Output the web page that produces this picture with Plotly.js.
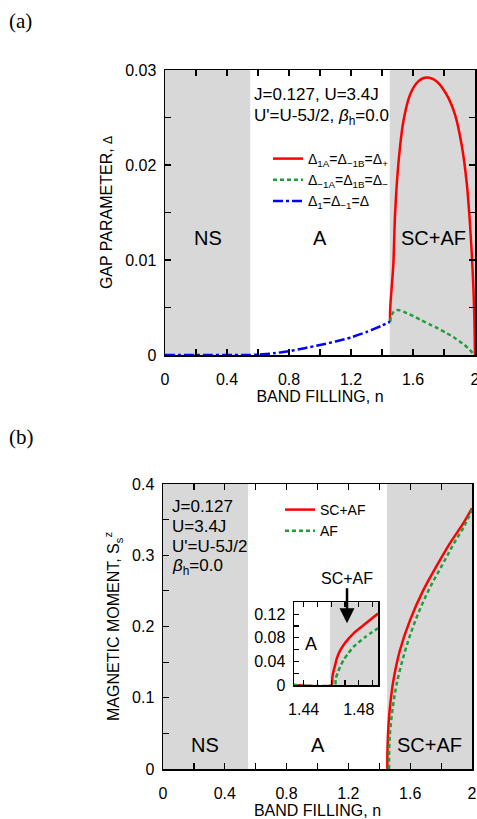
<!DOCTYPE html>
<html>
<head>
<meta charset="utf-8">
<script src="https://cdn.plot.ly/plotly-3.0.1.min.js"></script>
<style>html,body{margin:0;padding:0;background:#fff;}#chart{width:477px;height:819px;}</style>
</head>
<body>
<div id="chart"></div>
<script>
// ---------- data ----------
// Panel (a): gap parameters vs band filling n
const blueN = [0, 0.1, 0.2, 0.3, 0.4, 0.55, 0.6, 0.7, 0.8, 0.9, 1.0, 1.1, 1.2, 1.3, 1.4, 1.4516];
const blueD = [0, 0, 0, 0, 0, 0, 0.00004, 0.00018, 0.0004, 0.00072, 0.00105, 0.00142, 0.00185, 0.00242, 0.0031, 0.0035];

const redN = [1.4516, 1.452, 1.455, 1.462, 1.473, 1.484, 1.505, 1.538, 1.581, 1.634, 1.688, 1.753, 1.817, 1.871, 1.914, 1.946, 1.968, 1.985, 1.995, 2.0];
const redD = [0.0035, 0.0045, 0.0055, 0.0070, 0.0095, 0.0147, 0.0200, 0.0246, 0.0274, 0.0288, 0.0292, 0.0288, 0.0274, 0.0253, 0.0221, 0.0182, 0.0137, 0.0088, 0.0045, 0.0];

const greenN = [1.4516, 1.46, 1.473, 1.495, 1.516, 1.56, 1.602, 1.65, 1.71, 1.76, 1.817, 1.86, 1.903, 1.93, 1.957, 1.975, 1.989, 2.0];
const greenD = [0.0035, 0.0041, 0.0045, 0.00472, 0.0047, 0.0044, 0.0041, 0.0037, 0.0032, 0.0028, 0.0023, 0.0019, 0.0014, 0.0011, 0.0007, 0.0004, 0.0001, 0];

// Panel (b): magnetic moment vs band filling n
const scafN = [1.452, 1.4525, 1.455, 1.46, 1.469, 1.491, 1.534, 1.599, 1.685, 1.771, 1.858, 1.944, 2.0];
const scafS = [0, 0.022, 0.042, 0.063, 0.087, 0.124, 0.167, 0.209, 0.251, 0.285, 0.317, 0.345, 0.366];
const afN = [1.463, 1.4635, 1.466, 1.474, 1.491, 1.513, 1.566, 1.631, 1.717, 1.804, 1.879, 1.955, 2.0];
const afS = [0, 0.02, 0.04, 0.062, 0.092, 0.12, 0.165, 0.207, 0.25, 0.285, 0.315, 0.343, 0.364];

// Inset of panel (b)
const insScafN = [1.433, 1.4604, 1.4608, 1.4616, 1.463, 1.4641, 1.466, 1.469, 1.4725, 1.4763, 1.485, 1.494];
const insScafS = [0, 0, 0.012, 0.0225, 0.035, 0.045, 0.056, 0.0677, 0.078, 0.0875, 0.104, 0.121];
const insAfN = [1.433, 1.4628, 1.4632, 1.4646, 1.4665, 1.469, 1.4725, 1.4763, 1.485, 1.494];
const insAfS = [0, 0, 0.010, 0.0197, 0.031, 0.0423, 0.054, 0.0648, 0.0817, 0.096];

// Tick values / labels
const nTicks = [0, 0.4, 0.8, 1.2, 1.6, 2];
const nTickText = ['0', '0.4', '0.8', '1.2', '1.6', '2'];
const gapTicks = [0, 0.01, 0.02, 0.03];
const momTicks = [0, 0.1, 0.2, 0.3, 0.4];
const insXTicks = [1.44, 1.48];
const insYTicks = [0, 0.04, 0.08, 0.12];

// Phase regions
const nsRange = [0, 0.55];
const scRange = [1.45, 2.0];
const insScStart = 1.4592;

// ---------- styling ----------
const FONT = "'Liberation Sans', Arial, sans-serif";
const RED = '#ff0000', GREEN = '#1f9e3a', BLUE = '#0000ff', SHADE = '#d8d8d8';
const tickFont = {family: FONT, size: 16, color: '#000'};
const titleFont = {family: FONT, size: 16, color: '#000'};
const minorT = (d, len) => ({dtick: d, ticks: 'inside', ticklen: len, tickwidth: 1.2, tickcolor: '#000'});

const traces = [
  {x: redN, y: redD, xaxis: 'x', yaxis: 'y', mode: 'lines', name: 'Δ<sub>1A</sub>=Δ<sub>−1B</sub>=Δ<sub>+</sub>',
   line: {color: RED, width: 2.5, shape: 'spline', smoothing: 0.8}, legend: 'legend', legendrank: 1},
  {x: greenN, y: greenD, xaxis: 'x', yaxis: 'y', mode: 'lines', name: 'Δ<sub>−1A</sub>=Δ<sub>1B</sub>=Δ<sub>−</sub>',
   line: {color: GREEN, width: 2.5, dash: '4px,3px', shape: 'spline', smoothing: 0.8}, legend: 'legend', legendrank: 2},
  {x: blueN, y: blueD, xaxis: 'x', yaxis: 'y', mode: 'lines', name: 'Δ<sub>1</sub>=Δ<sub>−1</sub>=Δ',
   line: {color: BLUE, width: 2.5, dash: '10px,3px,3px,3px', shape: 'spline', smoothing: 0.6}, legend: 'legend', legendrank: 3},
  {x: scafN, y: scafS, xaxis: 'x2', yaxis: 'y2', mode: 'lines', name: 'SC+AF',
   line: {color: RED, width: 2.5, shape: 'spline', smoothing: 1}, legend: 'legend2', legendrank: 1},
  {x: afN, y: afS, xaxis: 'x2', yaxis: 'y2', mode: 'lines', name: 'AF',
   line: {color: GREEN, width: 2.5, dash: '4px,3px', shape: 'spline', smoothing: 1}, legend: 'legend2', legendrank: 2},
  {x: insScafN, y: insScafS, xaxis: 'x3', yaxis: 'y3', mode: 'lines', showlegend: false,
   line: {color: RED, width: 2.5, shape: 'spline', smoothing: 0.6}},
  {x: insAfN, y: insAfS, xaxis: 'x3', yaxis: 'y3', mode: 'lines', showlegend: false,
   line: {color: GREEN, width: 2.5, dash: '4px,3px', shape: 'spline', smoothing: 0.6}}
];

function xax(domain, anchor) {
  return {
    domain: domain, anchor: anchor, range: [0, 2], tickmode: 'array', tickvals: nTicks, ticktext: nTickText,
    ticks: 'inside', ticklen: 6, tickwidth: 1.2, tickcolor: '#000', minor: minorT(0.2, 6),
    showline: true, linecolor: '#000', linewidth: 1.5, mirror: 'ticks',
    showgrid: false, zeroline: false, tickfont: tickFont, automargin: false, ticklabelstandoff: 9,
    ticklabeloverflow: 'allow',
    title: {text: 'BAND FILLING, n', font: titleFont, standoff: 4}
  };
}

const layout = {
  width: 477, height: 819,
  margin: {l: 0, r: 0, t: 0, b: 0},
  paper_bgcolor: '#fff', plot_bgcolor: 'rgba(0,0,0,0)',
  showlegend: true,
  xaxis: xax([165/477, 475/477], 'y'),
  yaxis: {
    domain: [1 - 355/819, 1 - 70/819], anchor: 'x', range: [0, 0.03], tickmode: 'array', tickvals: gapTicks,
    ticks: 'inside', ticklen: 6, tickwidth: 1.2, tickcolor: '#000', minor: minorT(0.005, 6),
    showline: true, linecolor: '#000', linewidth: 1.5, mirror: 'ticks',
    showgrid: false, zeroline: false, tickfont: tickFont, automargin: false, ticklabelstandoff: 4,
    ticklabeloverflow: 'allow',
    title: {text: 'GAP PARAMETER, <span style="font-size:12px">Δ</span>', font: titleFont, standoff: 8}
  },
  xaxis2: xax([163/477, 472/477], 'y2'),
  yaxis2: {
    domain: [1 - 769/819, 1 - 484/819], anchor: 'x2', range: [0, 0.4], tickmode: 'array', tickvals: momTicks,
    ticks: 'inside', ticklen: 6, tickwidth: 1.2, tickcolor: '#000', minor: minorT(0.05, 6),
    showline: true, linecolor: '#000', linewidth: 1.5, mirror: true,
    showgrid: false, zeroline: false, tickfont: tickFont, automargin: false, ticklabelstandoff: 4,
    ticklabeloverflow: 'allow',
    title: {text: 'MAGNETIC MOMENT, S<sub>s</sub><sup>z</sup>', font: titleFont, standoff: 8}
  },
  yaxis4: {
    overlaying: 'y2', side: 'right', anchor: 'x2', range: [0, 0.4], dtick: 0.4/6, tick0: 0,
    ticks: 'inside', ticklen: 6, tickwidth: 1.2, tickcolor: '#000', showticklabels: false,
    showline: false, showgrid: false, zeroline: false
  },
  xaxis3: {
    domain: [294/477, 378/477], anchor: 'y3', range: [1.433, 1.494], tickmode: 'array', tickvals: insXTicks,
    ticks: 'inside', ticklen: 5, tickwidth: 1.2, tickcolor: '#000', minor: minorT(0.01, 5),
    showline: true, linecolor: '#000', linewidth: 1.5, mirror: 'ticks',
    showgrid: false, zeroline: false, tickfont: tickFont, automargin: false, ticklabelstandoff: 9,
    ticklabeloverflow: 'allow'
  },
  yaxis3: {
    domain: [1 - 685/819, 1 - 602.3/819], anchor: 'x3', range: [0, 0.14], tickmode: 'array', tickvals: insYTicks,
    ticks: 'inside', ticklen: 5, tickwidth: 1.2, tickcolor: '#000', minor: minorT(0.02, 5),
    showline: true, linecolor: '#000', linewidth: 1.5, mirror: true,
    showgrid: false, zeroline: false, tickfont: tickFont, automargin: false, ticklabelstandoff: 4,
    ticklabeloverflow: 'allow'
  },
  legend: {
    x: 268/477, y: 1 - 143/819, xanchor: 'left', yanchor: 'top',
    bgcolor: 'rgba(0,0,0,0)', borderwidth: 0, font: {family: FONT, size: 14, color: '#000'},
    tracegroupgap: 0, itemclick: false
  },
  legend2: {
    x: 280/477, y: 1 - 494/819, xanchor: 'left', yanchor: 'top',
    bgcolor: 'rgba(0,0,0,0)', borderwidth: 0, font: {family: FONT, size: 14, color: '#000'},
    tracegroupgap: 0, itemclick: false
  },
  shapes: [
    {type: 'rect', xref: 'x', yref: 'y domain', x0: nsRange[0], x1: nsRange[1], y0: 0, y1: 1, fillcolor: SHADE, line: {width: 0}, layer: 'below'},
    {type: 'rect', xref: 'x', yref: 'y domain', x0: scRange[0], x1: scRange[1], y0: 0, y1: 1, fillcolor: SHADE, line: {width: 0}, layer: 'below'},
    {type: 'rect', xref: 'x2', yref: 'y2 domain', x0: nsRange[0], x1: nsRange[1], y0: 0, y1: 1, fillcolor: SHADE, line: {width: 0}, layer: 'below'},
    {type: 'rect', xref: 'x2', yref: 'y2 domain', x0: scRange[0], x1: scRange[1], y0: 0, y1: 1, fillcolor: SHADE, line: {width: 0}, layer: 'below'},
    {type: 'rect', xref: 'x3', yref: 'y3 domain', x0: insScStart, x1: 1.494, y0: 0, y1: 1, fillcolor: SHADE, line: {width: 0}, layer: 'below'}
  ],
  annotations: [
    {text: '(a)', xref: 'paper', yref: 'paper', x: 7/477, y: 1 - 21/819, xanchor: 'left', yanchor: 'middle', showarrow: false,
     font: {family: "'Liberation Serif', 'DejaVu Serif', serif", size: 21, color: '#000'}},
    {text: '(b)', xref: 'paper', yref: 'paper', x: 7/477, y: 1 - 437/819, xanchor: 'left', yanchor: 'middle', showarrow: false,
     font: {family: "'Liberation Serif', 'DejaVu Serif', serif", size: 21, color: '#000'}},
    {text: 'J=0.127, U=3.4J', xref: 'x', yref: 'y', x: 0.559, y: 0.0274, xanchor: 'left', yanchor: 'middle', showarrow: false,
     font: {family: FONT, size: 17, color: '#000'}},
    {text: "U'=U-5J/2, <i>β</i><sub>h</sub>=0.0", xref: 'x', yref: 'y', x: 0.559, y: 0.02505, xanchor: 'left', yanchor: 'middle', showarrow: false,
     font: {family: FONT, size: 17, color: '#000'}},
    {text: 'NS', xref: 'x', yref: 'y', x: 0.277, y: 0.0123, showarrow: false, font: {family: FONT, size: 20, color: '#000'}},
    {text: 'A', xref: 'x', yref: 'y', x: 1.0, y: 0.0123, showarrow: false, font: {family: FONT, size: 20, color: '#000'}},
    {text: 'SC+AF', xref: 'x', yref: 'y', x: 1.729, y: 0.0123, showarrow: false, font: {family: FONT, size: 20, color: '#000'}},
    {text: 'J=0.127', xref: 'x2', yref: 'y2', x: 0.045, y: 0.368, xanchor: 'left', yanchor: 'middle', showarrow: false, font: {family: FONT, size: 17, color: '#000'}},
    {text: 'U=3.4J', xref: 'x2', yref: 'y2', x: 0.045, y: 0.340, xanchor: 'left', yanchor: 'middle', showarrow: false, font: {family: FONT, size: 17, color: '#000'}},
    {text: "U'=U-5J/2", xref: 'x2', yref: 'y2', x: 0.045, y: 0.312, xanchor: 'left', yanchor: 'middle', showarrow: false, font: {family: FONT, size: 17, color: '#000'}},
    {text: '<i>β</i><sub>h</sub>=0.0', xref: 'x2', yref: 'y2', x: 0.045, y: 0.2835, xanchor: 'left', yanchor: 'middle', showarrow: false, font: {family: FONT, size: 17, color: '#000'}},
    {text: 'NS', xref: 'x2', yref: 'y2', x: 0.272, y: 0.0337, showarrow: false, font: {family: FONT, size: 20, color: '#000'}},
    {text: 'A', xref: 'x2', yref: 'y2', x: 1.003, y: 0.0337, showarrow: false, font: {family: FONT, size: 20, color: '#000'}},
    {text: 'SC+AF', xref: 'x2', yref: 'y2', x: 1.728, y: 0.0337, showarrow: false, font: {family: FONT, size: 20, color: '#000'}},
    {text: 'A', xref: 'x3', yref: 'y3', x: 1.4455, y: 0.07, showarrow: false, font: {family: FONT, size: 18, color: '#000'}},
    {text: 'SC+AF', xref: 'x3', yref: 'y3', x: 1.4715, y: 0.1044, ax: 0, ay: -45, showarrow: true,
     arrowhead: 2, arrowsize: 1.2, arrowwidth: 2.5, arrowcolor: '#000', font: {family: FONT, size: 16, color: '#000'}}
  ]
};

Plotly.newPlot('chart', traces, layout, {staticPlot: true});
</script>
</body>
</html>
